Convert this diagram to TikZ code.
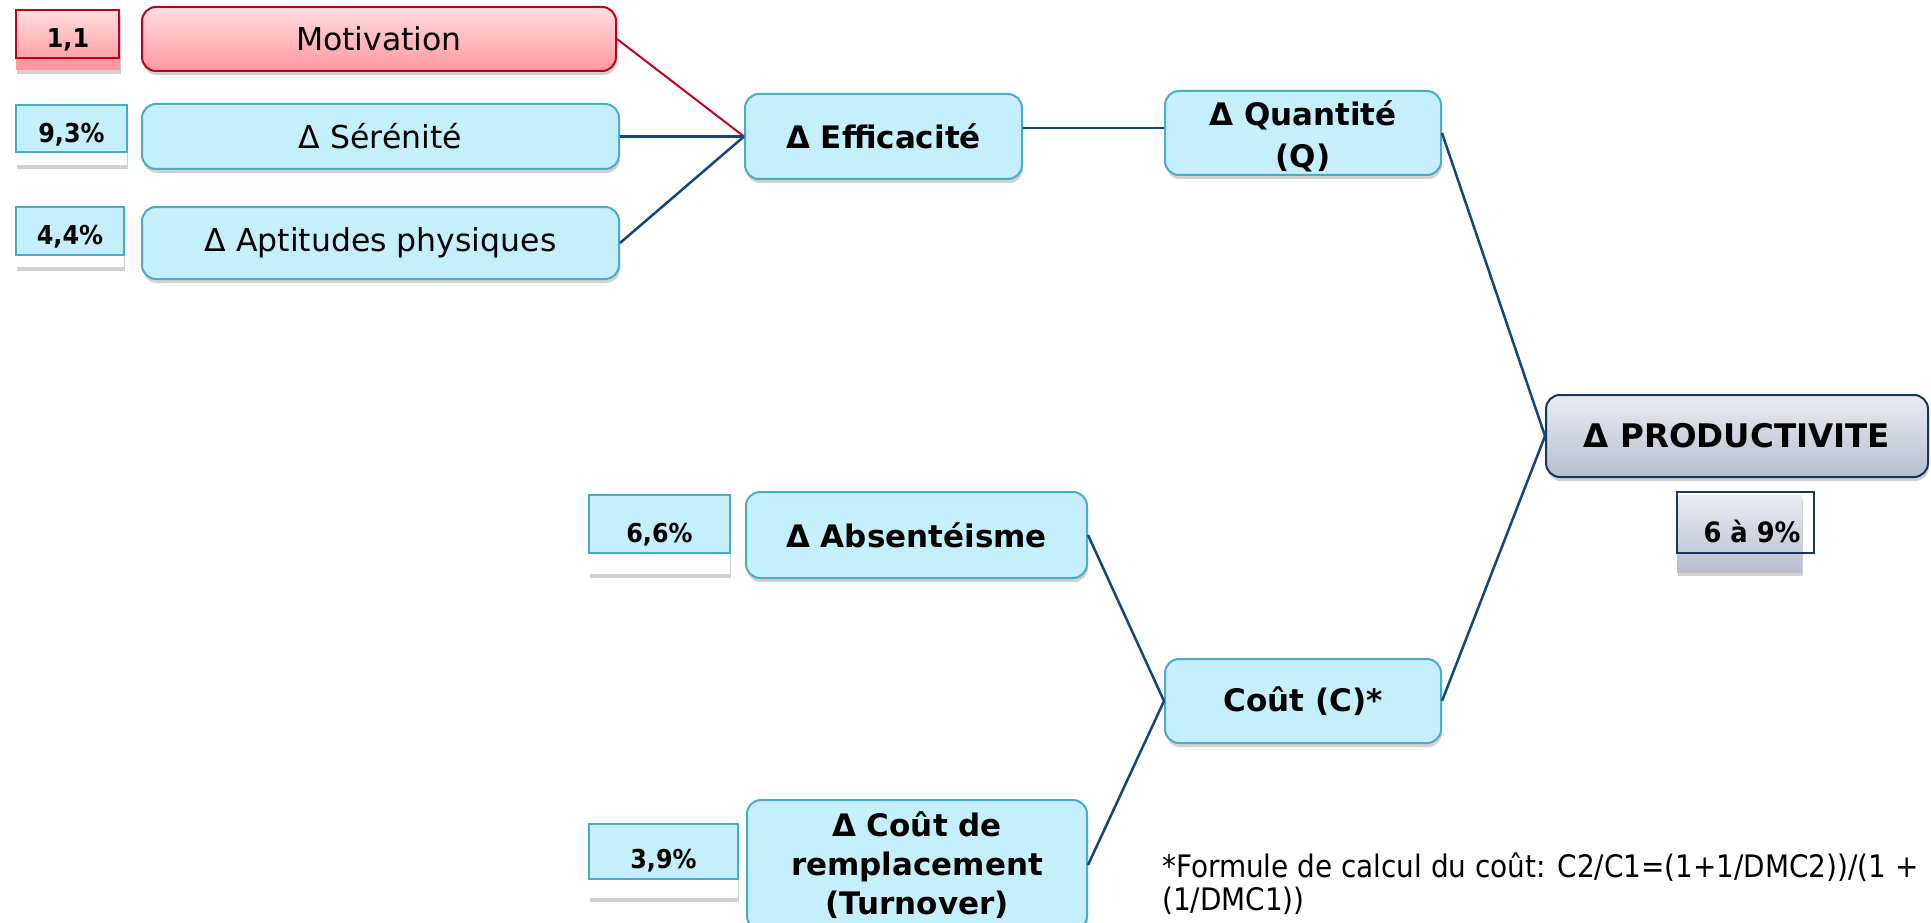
\documentclass[tikz,border=0pt]{standalone}
\usepackage{fontspec}
\setmainfont{DejaVu Sans}
\newfontfamily\condfont{DejaVu Sans Condensed}
\usetikzlibrary{shadows}
\definecolor{cyanfill}{RGB}{198,239,252}
\definecolor{cyanedge}{RGB}{75,172,198}
\definecolor{navy}{RGB}{20,70,125}
\definecolor{rededge}{RGB}{192,0,32}
\definecolor{redtop}{RGB}{255,222,224}
\definecolor{redbot}{RGB}{255,152,158}
\definecolor{greytop}{RGB}{234,236,242}
\definecolor{greybot}{RGB}{184,190,206}
\definecolor{prodedge}{RGB}{23,55,94}
\newcommand{\pctlabel}[1]{\scalebox{0.92}[1]{#1}}
\tikzset{
  shad/.style={drop shadow={shadow xshift=1pt, shadow yshift=-4pt, fill=black, opacity=0.18}},
  lbox/.style={draw=cyanedge, fill=cyanfill, line width=2pt, rounded corners=14pt, inner sep=0pt,
    align=center, shad, font=\fontsize{31.5}{39}\selectfont},
  bbox/.style={lbox, font=\bfseries\fontsize{31}{39}\selectfont},
  redbox/.style={lbox, draw=rededge, top color=redtop, bottom color=redbot},
  prodbox/.style={bbox, draw=prodedge, top color=greytop, bottom color=greybot, font=\bfseries\fontsize{32.5}{39}\selectfont},
  pctunder/.style={fill=white, inner sep=0pt, shad},
  pcttop/.style={draw=cyanedge, fill=cyanfill, line width=2pt, inner sep=0pt},
  pcttext/.style={inner sep=0pt, font=\bfseries\fontsize{26}{30}\selectfont},
  navyline/.style={draw=navy, line width=2.5pt},
  redline/.style={draw=rededge, line width=2pt},
}
\begin{document}
\begin{tikzpicture}[x=1pt,y=-1pt]
\useasboundingbox (0,0) rectangle (1931,923);
\node[redbox, minimum width=474pt, minimum height=64pt] (motiv) at (379,39) {Motivation};
\node[lbox, minimum width=477pt, minimum height=65pt] (seren) at (380.5,136.5) {Δ Sérénité};
\node[lbox, minimum width=477pt, minimum height=72pt] (apt) at (380.5,243) {Δ Aptitudes physiques};
\node[bbox, minimum width=277pt, minimum height=85pt] (eff) at (883.5,136.5) {Δ Efficacité};
\node[bbox, minimum width=276pt, minimum height=84pt] (quant) at (1303,133) {};
\node[inner sep=0pt, align=center, font=\bfseries\fontsize{31}{42}\selectfont] (quanttext) at ([yshift=-3.5pt]quant.center) {Δ Quantité\\(Q)};
\node[prodbox, minimum width=382pt, minimum height=82pt] (prod) at (1737,436) {Δ PRODUCTIVITE};
\node[bbox, minimum width=341pt, minimum height=86pt] (abs) at (916.5,535) {Δ Absentéisme};
\node[bbox, minimum width=276pt, minimum height=84pt] (cout) at (1303,701) {Coût (C)*};
\node[bbox, minimum width=340pt, minimum height=130pt] (turn) at (917,865) {Δ Coût de\\remplacement\\(Turnover)};

\draw[redline] (motiv.east) -- (eff.west);
\draw[navyline] (seren.east) -- (eff.west);
\draw[navyline] (apt.east) -- (eff.west);
\draw[navyline] ([yshift=5pt]quant.west -| eff.east) -- ([yshift=5pt]quant.west);
\draw[navyline] (quant.east) -- (prod.west);
\draw[navyline] (cout.east) -- (prod.west);
\draw[navyline] (abs.east) -- (cout.west);
\draw[navyline] (turn.east) -- (cout.west);

% percentage boxes
\node[pctunder, fill=redbot, minimum width=104pt, minimum height=60pt] (p11bg) at (68,40) {};
\node[pcttop, draw=rededge, top color=redtop, bottom color=redbot!85!redtop, minimum width=103pt, minimum height=48pt] (p11box) at (67.5,34) {};
\node[pcttext] (p11) at (p11bg) {\pctlabel{1,1}};

\node[pctunder, minimum width=111pt, minimum height=60pt] (p93bg) at (71.5,135) {};
\node[pcttop, minimum width=111pt, minimum height=47pt] (p93box) at (71.5,128.5) {};
\node[pcttext] (p93) at (p93bg) {\pctlabel{9,3\%}};

\node[pctunder, minimum width=108pt, minimum height=60pt] (p44bg) at (70,237) {};
\node[pcttop, minimum width=108pt, minimum height=48pt] (p44box) at (70,231) {};
\node[pcttext] (p44) at (p44bg) {\pctlabel{4,4\%}};

\node[pctunder, minimum width=141pt, minimum height=79pt] (p66bg) at (659.5,534.5) {};
\node[pcttop, minimum width=141pt, minimum height=58pt] (p66box) at (659.5,524) {};
\node[pcttext] (p66) at (p66bg) {\pctlabel{6,6\%}};

\node[pctunder, minimum width=149pt, minimum height=74pt] (p39bg) at (663.5,861) {};
\node[pcttop, minimum width=149pt, minimum height=55pt] (p39box) at (663.5,851.5) {};
\node[pcttext] (p39) at (p39bg) {\pctlabel{3,9\%}};

\node[pctunder, top color=greytop, bottom color=greybot, minimum width=125pt, minimum height=77pt] (p69bg) at (1739.5,533.5) {};
\node[draw=prodedge, line width=2pt, inner sep=0pt, minimum width=137pt, minimum height=61pt] (p69box) at (1745.5,522.5) {};
\node[pcttext, font=\bfseries\fontsize{28}{32}\selectfont] (p69) at (1752,531) {\pctlabel{6 à 9\%}};

% footnote
\node[anchor=west, align=left, inner sep=0pt, font=\condfont\fontsize{31}{33}\selectfont] (note) at (1162,883.5)
  {*Formule de calcul du coût: C2/C1=(1+1/DMC2))/(1 +\\(1/DMC1))};
\end{tikzpicture}
\end{document}
